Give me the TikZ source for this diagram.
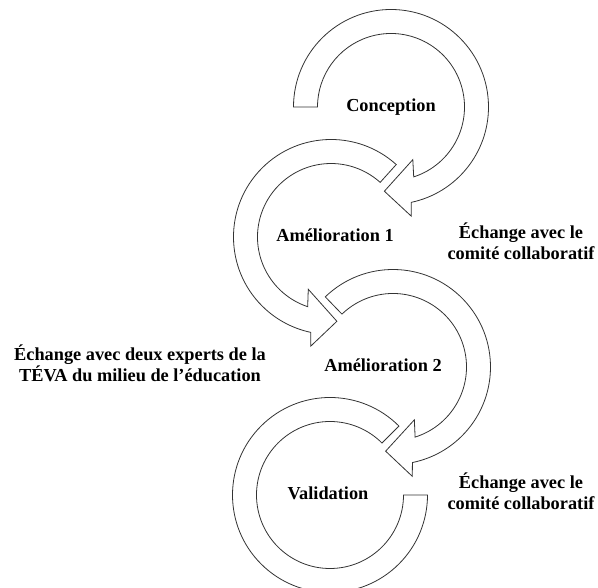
\documentclass[tikz,border=0pt]{standalone}
\usepackage{fontspec}
\setmainfont{Liberation Serif}
\begin{document}
\begin{tikzpicture}[x=1pt,y=1pt,
  band/.style={draw=black!80, line width=0.8pt, fill=white, line join=miter},
  lbl/.style={font=\bfseries\fontsize{18.3}{21.5}\selectfont, inner sep=0pt, anchor=base, align=center}]
\useasboundingbox (0,0) rectangle (598,588);
% arrow 1 (Conception), clockwise
\begin{scope}[shift={(391,481)}]
\draw[band] (180:97.5) arc[start angle=180,end angle=-78,radius=97.5pt]
  -- (-79.5:111) -- (-94.5:84.5) -- (-67.5:57) -- (-72:73.5)
  arc[start angle=-72,end angle=180,radius=73.5pt] -- cycle;
\end{scope}
% arrow 2 (Amelioration 1), counter-clockwise
\begin{scope}[shift={(331,351)}]
\draw[band] (48:97.5) arc[start angle=48,end angle=258,radius=97.5pt]
  -- (259.5:111) -- (274:84.5) -- (246.5:57) -- (251.5:73.5)
  arc[start angle=251.5,end angle=48,radius=73.5pt] -- cycle;
\end{scope}
% arrow 3 (Amelioration 2), clockwise
\begin{scope}[shift={(393,221)}]
\draw[band] (134:97.5) arc[start angle=134,end angle=-78.5,radius=97.5pt]
  -- (-80:111) -- (-95:84.5) -- (-68:57) -- (-72.5:73.5)
  arc[start angle=-72.5,end angle=134,radius=73.5pt] -- cycle;
\end{scope}
% arrow 4 (Validation)
\begin{scope}[shift={(330,93)}]
\draw[band] (45:97.5) arc[start angle=45,end angle=360,radius=97.5pt]
  -- (0:73.5) arc[start angle=360,end angle=45,radius=73.5pt] -- cycle;
\end{scope}
\node[lbl] (conc) at (391,476.3) {Conception};
\node[lbl] (am1) at (335,346.3) {Amélioration 1};
\node[lbl] (am2) at (383,216.3) {Amélioration 2};
\node[lbl] (val) at (328,88) {Validation};
\node[lbl] (ech1) at (521,328) {Échange avec le\\comité collaboratif};
\node[lbl] (ech2) at (521,78) {Échange avec le\\comité collaboratif};
\node[lbl] (exp) at (140,206.3) {Échange avec deux experts de la\\TÉVA du milieu de l’éducation};
\end{tikzpicture}
\end{document}
